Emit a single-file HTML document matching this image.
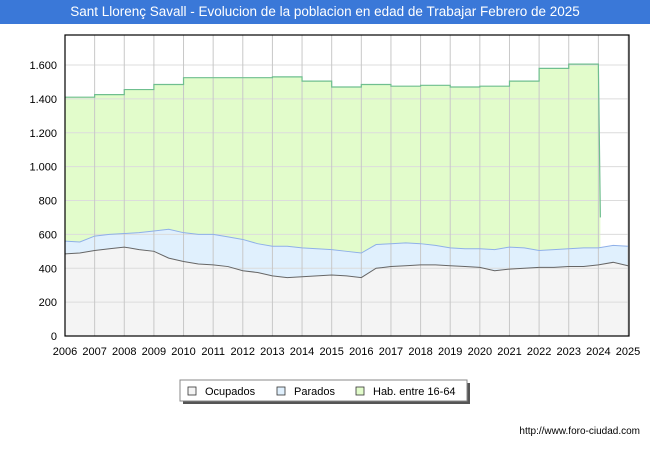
<!DOCTYPE html>
<html><head><meta charset="utf-8"><style>
body{margin:0;width:650px;height:450px;background:#fff;font-family:"Liberation Sans",sans-serif;overflow:hidden}
#title{position:absolute;left:0;top:0;width:650px;height:24px;background:#3a78d8;color:#fff;font-size:13.5px;text-align:center;line-height:24px}
svg{position:absolute;left:0;top:0}
</style></head><body>
<div id="title">Sant Llorenç Savall - Evolucion de la poblacion en edad de Trabajar Febrero de 2025</div>
<svg id="c" width="650" height="450"></svg>
<script>
const yearLabels=[2006,2007,2008,2009,2010,2011,2012,2013,2014,2015,2016,2017,2018,2019,2020,2021,2022,2023,2024,2025];
const yTicks=[0,200,400,600,800,1000,1200,1400,1600];
const yTickLabels=["0","200","400","600","800","1.000","1.200","1.400","1.600"];
const habYears=[2006,2007,2008,2009,2010,2011,2012,2013,2014,2015,2016,2017,2018,2019,2020,2021,2022,2023];
const habValues=[1410,1425,1455,1485,1525,1525,1525,1530,1505,1470,1485,1475,1480,1470,1475,1505,1580,1605];
const habDropValue=700;
const ocupados=[485,490,505,515,525,510,500,460,440,425,420,410,385,375,355,345,350,355,360,355,345,400,410,415,420,420,415,410,405,385,395,400,405,405,410,410,420,435,415];
const parados=[75,65,85,85,80,100,120,170,170,175,180,175,185,170,175,185,170,160,150,145,145,140,135,135,125,115,105,105,110,125,130,120,100,105,105,110,100,100,115];
const NS='http://www.w3.org/2000/svg';
const svg=document.getElementById('c');
const x0=65,x1=628,yb=336,yt=65;
const X=t=>x0+(t-2006)/(2025-2006)*(x1-x0);
const Y=v=>yb-v/1600*(yb-yt);
function el(tag,attrs,parent){const e=document.createElementNS(NS,tag);for(const k in attrs)e.setAttribute(k,attrs[k]);(parent||svg).appendChild(e);return e;}
const bg=el('rect',{x:x0,y:35,width:x1-x0+1,height:yb-35,fill:'#fff'});


let hp=`M${X(2006)},${Y(0)}`;
habYears.forEach((yr,i)=>{hp+=` L${X(yr)},${Y(habValues[i])} L${X(yr+1)},${Y(habValues[i])}`;});
hp+=` L${X(2024)+2},${Y(habDropValue)} L${X(2024)+2},${Y(0)} Z`;
const ha=el('path',{d:hp,fill:'#e2fccb',stroke:'none'});


const tt=ocupados.map((_,i)=>2006+i*0.5);
let up=tt.map((t,i)=>`${X(t)},${Y(ocupados[i]+parados[i])}`);
let lo=tt.map((t,i)=>`${X(t)},${Y(ocupados[i])}`);
const pa=el('path',{d:'M'+up.join(' L')+' L'+lo.slice().reverse().join(' L')+' Z',fill:'#e0f0fd'});


const oa=el('path',{d:'M'+lo.join(' L')+` L${X(2025)},${Y(0)} L${X(2006)},${Y(0)} Z`,fill:'#f4f4f4'});


yTicks.forEach((v,i)=>{
 const g=el('line',{x1:x0,x2:x1,y1:Y(v),y2:Y(v),stroke:'#dcdcdc','stroke-width':1});
 
 
 const t=el('text',{x:x0-8,y:Y(v)+4,'text-anchor':'end','font-size':11,fill:'#000'});
 t.textContent=yTickLabels[i];
 
 
});
yearLabels.forEach(yr=>{
 const g=el('line',{x1:X(yr),x2:X(yr),y1:35,y2:yb,stroke:'#c8c8c8','stroke-width':1});
 
 
 const t=el('text',{x:X(yr),y:355,'text-anchor':'middle','font-size':11,fill:'#000'});
 t.textContent=yr;
 
 
});
let hl=`M${X(2006)},${Y(habValues[0])}`;
habYears.forEach((yr,i)=>{hl+=` L${X(yr)},${Y(habValues[i])} L${X(yr+1)},${Y(habValues[i])}`;});
hl+=` L${X(2024)+2},${Y(habDropValue)}`;
const hln=el('path',{d:hl,fill:'none',stroke:'#6fbf8f','stroke-width':1.2});


const pl=el('polyline',{points:up.join(' '),fill:'none',stroke:'#8fb0e8','stroke-width':1});


const ol=el('polyline',{points:lo.join(' '),fill:'none',stroke:'#666','stroke-width':1});


const fr=el('rect',{x:x0,y:35,width:x1-x0+1,height:yb-35,fill:'none',stroke:'#000','stroke-width':1.2});


const lg=el('g',{});


el('rect',{x:183,y:383,width:287,height:21,fill:'#555'},lg);
el('rect',{x:180,y:380,width:287,height:21,fill:'#fff',stroke:'#888'},lg);
const items=[['Ocupados','#f4f4f4',188],['Parados','#e0f0fd',277],['Hab. entre 16-64','#e2fccb',356]];
items.forEach(([n,c,x])=>{
 const g=el('g',{},lg);
 
 
 el('rect',{x:x,y:387,width:8,height:8,fill:c,stroke:'#333','stroke-width':0.8},g);
 const t=el('text',{x:x+17,y:395,'font-size':11,fill:'#000'},g);t.textContent=n;
});
const u=el('text',{x:640,y:434,'text-anchor':'end','font-size':10,fill:'#000'});
u.textContent='http://www.foro-ciudad.com';


</script>
</body></html>
